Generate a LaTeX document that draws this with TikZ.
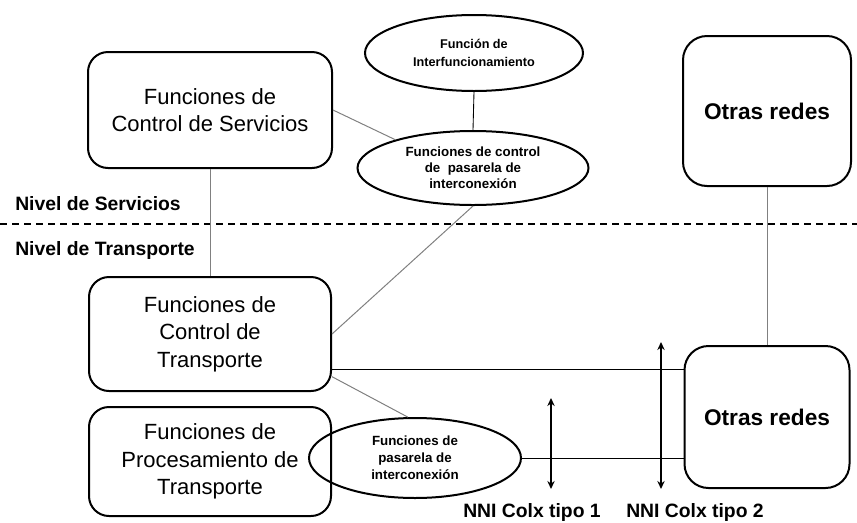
\documentclass[tikz,border=0pt]{standalone}
\usepackage{fontspec}
\setmainfont{Liberation Sans}
\usetikzlibrary{shapes.geometric,arrows.meta}
\begin{document}
\begin{tikzpicture}[x=0.75pt,y=-0.75pt,
  box/.style={draw,line width=1.5pt,rounded corners=15pt,align=center,inner sep=0pt,
    font=\fontsize{16.5}{20.6}\selectfont},
  netbox/.style={draw,line width=1.5pt,rounded corners=18pt,align=center,inner sep=0pt,
    font=\fontsize{17}{20}\selectfont\bfseries},
  oval/.style={draw,ellipse,line width=1.5pt,align=center,inner sep=0pt,
    font=\fontsize{10}{12}\selectfont\bfseries},
  conn/.style={draw=black!50,line width=0.75pt},
  connb/.style={draw=black,line width=0.65pt},
  dblarrow/.style={draw=black,line width=1.6pt,{Stealth[length=6pt,width=5.5pt]}-{Stealth[length=6pt,width=5.5pt]}},
  levellabel/.style={anchor=west,inner sep=0pt,font=\fontsize{14.5}{17}\selectfont\bfseries},
  nnilabel/.style={inner sep=0pt,font=\fontsize{14.5}{17}\selectfont\bfseries}
]
\useasboundingbox (0,0) rectangle (857,522);

% separator
\coordinate (sepL) at (0,224);
\coordinate (sepR) at (857,224);
\draw[line width=1.2pt,dash pattern=on 5.6pt off 3.4pt] (sepL) -- (sepR);

% boxes
\node[box,minimum width=183pt,minimum height=87pt] (box1) at (210,110)
  {Funciones de\\Control de Servicios};
\node[box,minimum width=181.5pt,minimum height=85.5pt] (box2) at (210,334)
  {Funciones de\\Control de\\Transporte};
\node[box,minimum width=181.5pt,minimum height=81.75pt] (box3) at (210,461.5)
  {Funciones de\\Procesamiento de\\Transporte};
\node[netbox,minimum width=126pt,minimum height=112.5pt] (box4) at (767,111) {Otras redes};
\node[netbox,minimum width=123.75pt,minimum height=106.5pt] (box5) at (767,417) {Otras redes};

% ellipses
\node[oval,minimum width=163.5pt,minimum height=57pt,font=\fontsize{9.5}{13.5}\selectfont\bfseries] (e1) at (474,53)
  {Función de\\Interfuncionamiento};
\node[oval,minimum width=173.25pt,minimum height=55.5pt] (e2) at (473,168)
  {Funciones de control\\de\ \ pasarela de\\interconexión};
\node[oval,minimum width=159pt,minimum height=60pt,font=\fontsize{10}{12.75}\selectfont\bfseries] (e3) at (415,458)
  {Funciones de\\pasarela de\\interconexión};

% connectors
\draw[conn] (box1.south) -- (box2.north);
\draw[conn] (box1.east) -- (e2.160);
\draw[connb] (e1.south) -- (e2.north);
\draw[conn] (box2.east) -- (e2.south);
\coordinate (h1) at (500,369);
\draw[connb] (box2.east |- h1) -- (box5.west |- h1);
\draw[conn] ([yshift=-32pt]box2.east) -- (e3.100);
\draw[connb] (e3.east) -- (e3.east -| box5.west);
\draw[conn] (box4.south) -- (box5.north);

% arrows
\coordinate (a1t) at (551,398);
\coordinate (a1b) at (551,489);
\coordinate (a2t) at (661,342);
\coordinate (a2b) at (661,489);
\draw[dblarrow] (a1t) -- (a1b);
\draw[dblarrow] (a2t) -- (a2b);

% labels
\node[levellabel] (lserv) at (15,204) {Nivel de Servicios};
\node[levellabel] (ltrans) at (15,250) {Nivel de Transporte};
\node[nnilabel] (nni1) at (532,512.5) {NNI Colx tipo 1};
\node[nnilabel] (nni2) at (695,512.5) {NNI Colx tipo 2};
\end{tikzpicture}
\end{document}
